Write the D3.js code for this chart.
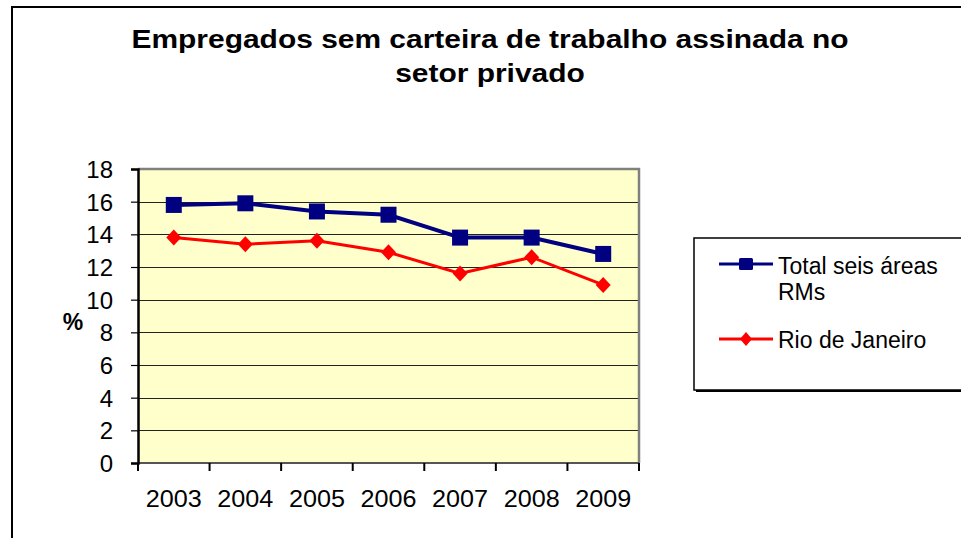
<!DOCTYPE html>
<html>
<head>
<meta charset="utf-8">
<script src="https://cdn.jsdelivr.net/npm/d3@7"></script>
<style>
  html, body { margin: 0; padding: 0; background: #fff; }
  svg { display: block; }
  text { font-family: "Liberation Sans", Arial, sans-serif; fill: #000; }
</style>
</head>
<body>
<svg id="chart" width="961" height="538"></svg>
<script>
const titleLines = ["Empregados sem carteira de trabalho assinada no", "setor privado"];
const years = ["2003", "2004", "2005", "2006", "2007", "2008", "2009"];
const totalSeisAreas = [15.8, 15.9, 15.4, 15.2, 13.8, 13.8, 12.8];
const rioDeJaneiro = [13.8, 13.4, 13.6, 12.9, 11.6, 12.6, 10.9];
const yTickValues = [0, 2, 4, 6, 8, 10, 12, 14, 16, 18];
const yAxisLabel = "%";
const legendLabels = [["Total seis áreas", "RMs"], ["Rio de Janeiro"]];

const svg = d3.select("#chart");
const W = 961, H = 538;

// outer chart border
svg.append("rect").attr("x", 12).attr("y", 7).attr("width", 1000).attr("height", 600)
  .attr("fill", "#fff").attr("stroke", "#000").attr("stroke-width", 2);

const plot = { left: 138, right: 639, top: 169, bottom: 463 };

const x = d3.scaleBand().domain(years).range([plot.left, plot.right]);
const y = d3.scaleLinear().domain([0, 18]).range([plot.bottom, plot.top]);

// plot background
svg.append("rect").attr("x", plot.left).attr("y", plot.top)
  .attr("width", plot.right - plot.left).attr("height", plot.bottom - plot.top)
  .attr("fill", "#FFFFCC");

// gridlines
svg.append("g").selectAll("line").data(yTickValues.filter(v => v > 0 && v < 18)).join("line")
  .attr("x1", plot.left).attr("x2", plot.right)
  .attr("y1", d => Math.round(y(d)) + 0.5).attr("y2", d => Math.round(y(d)) + 0.5)
  .attr("stroke", "#222").attr("stroke-width", 1);

// top and right plot border (gray)
svg.append("path")
  .attr("d", `M${plot.left},${plot.top} H${plot.right} V${plot.bottom}`)
  .attr("fill", "none").attr("stroke", "#808080").attr("stroke-width", 2.5);
// bottom line
svg.append("line").attr("x1", plot.left).attr("x2", plot.right)
  .attr("y1", plot.bottom).attr("y2", plot.bottom)
  .attr("stroke", "#555").attr("stroke-width", 2);

// y axis
const yAxis = d3.axisLeft(y).tickValues(yTickValues).tickSize(7).tickPadding(18);
const gy = svg.append("g").attr("transform", `translate(${plot.left},0)`).call(yAxis);
gy.select(".domain").attr("stroke", "#000").attr("stroke-width", 2.5);
gy.selectAll(".tick line").attr("stroke", "#000").attr("stroke-width", 1.2);
gy.selectAll(".tick text").attr("font-size", 24).attr("font-family", "Liberation Sans, Arial, sans-serif")
  .attr("dy", "0.36em").attr("fill", "#000");

// x axis
const xAxis = d3.axisBottom(x).tickSize(0).tickPadding(38);
const gx = svg.append("g").attr("transform", `translate(0,${plot.bottom})`).call(xAxis);
gx.select(".domain").remove();
gx.selectAll(".tick text").attr("font-size", 23.5).attr("font-family", "Liberation Sans, Arial, sans-serif")
  .attr("fill", "#000").attr("dy", "0.25em");
gx.selectAll(".tick text").each(function() {
  d3.select(this).attr("textLength", 56).attr("lengthAdjust", "spacingAndGlyphs");
});
// x boundary ticks
const bounds = years.map(d => x(d)).concat([plot.right]);
svg.append("g").selectAll("line").data(bounds).join("line")
  .attr("x1", d => d).attr("x2", d => d)
  .attr("y1", plot.bottom).attr("y2", plot.bottom + 8)
  .attr("stroke", "#000").attr("stroke-width", 2);

// y label
svg.append("text").attr("x", 73).attr("y", 330).attr("text-anchor", "middle")
  .attr("font-size", 23).attr("font-weight", "bold").text(yAxisLabel);

// title
const titleCx = 490;
const titleY = [48, 82];
const titleText = svg.append("g").selectAll("text").data(titleLines).join("text")
  .attr("x", titleCx).attr("y", (d, i) => titleY[i]).attr("text-anchor", "middle")
  .attr("font-size", 25).attr("font-weight", "bold").text(d => d);
let titleScale = 1;
titleText.each(function(d, i) {
  if (i === 0) titleScale = 717 / this.getComputedTextLength();
});
titleText.each(function() {
  d3.select(this).attr("textLength", this.getComputedTextLength() * titleScale)
    .attr("lengthAdjust", "spacingAndGlyphs");
});

// series
const cx = d => x(d) + x.bandwidth() / 2;
const line = d3.line().x(d => cx(d.year)).y(d => y(d.v));
const blueData = years.map((yr, i) => ({ year: yr, v: totalSeisAreas[i] }));
const redData = years.map((yr, i) => ({ year: yr, v: rioDeJaneiro[i] }));
const BLUE = "#000080", RED = "#FF0000";

svg.append("path").datum(blueData).attr("d", line)
  .attr("fill", "none").attr("stroke", BLUE).attr("stroke-width", 4);
svg.append("path").datum(redData).attr("d", line)
  .attr("fill", "none").attr("stroke", RED).attr("stroke-width", 3);

const sq = 16;
svg.append("g").selectAll("rect").data(blueData).join("rect")
  .attr("x", d => cx(d.year) - sq / 2).attr("y", d => y(d.v) - sq / 2)
  .attr("width", sq).attr("height", sq).attr("fill", BLUE);

const diamond = (px, py, hw, hh) => `M${px},${py - hh} L${px + hw},${py} L${px},${py + hh} L${px - hw},${py} Z`;
svg.append("g").selectAll("path").data(redData).join("path")
  .attr("d", d => diamond(cx(d.year), y(d.v), 7.5, 8)).attr("fill", RED);

// legend
const lg = { x: 694, y: 238, w: 300, h: 152 };
svg.append("rect").attr("x", lg.x).attr("y", lg.y).attr("width", lg.w).attr("height", lg.h)
  .attr("fill", "#fff").attr("stroke", "#000").attr("stroke-width", 1.5);
svg.append("line").attr("x1", lg.x + 2).attr("x2", W).attr("y1", lg.y + lg.h + 1).attr("y2", lg.y + lg.h + 1)
  .attr("stroke", "#000").attr("stroke-width", 2);

const legendItems = [
  { color: BLUE, marker: "square", ly: 264, textY: [274, 300], lines: legendLabels[0] },
  { color: RED, marker: "diamond", ly: 339, textY: [348], lines: legendLabels[1] }
];
legendItems.forEach(it => {
  svg.append("line").attr("x1", 719).attr("x2", 773).attr("y1", it.ly).attr("y2", it.ly)
    .attr("stroke", it.color).attr("stroke-width", 3);
  if (it.marker === "square") {
    svg.append("rect").attr("x", 746 - 7).attr("y", it.ly - 6).attr("width", 14).attr("height", 12)
      .attr("rx", 1.5).attr("fill", it.color);
  } else {
    svg.append("path").attr("d", diamond(746, it.ly, 6, 7)).attr("fill", it.color);
  }
  it.lines.forEach((t, j) => {
    svg.append("text").attr("x", 778).attr("y", it.textY[j])
      .attr("font-size", 23).text(t);
  });
});
</script>
</body>
</html>
